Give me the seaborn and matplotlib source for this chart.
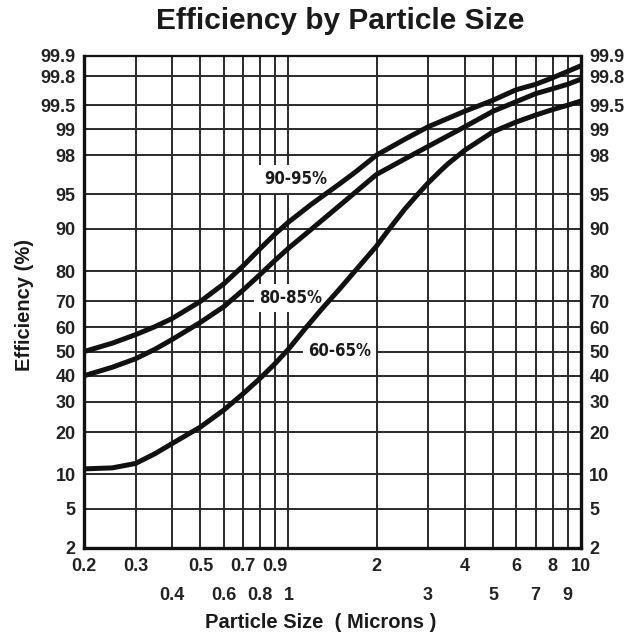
from statistics import NormalDist

import numpy as np
import pandas as pd
import matplotlib
matplotlib.use('Agg')
import matplotlib.pyplot as plt
import seaborn as sns
from matplotlib.ticker import FixedLocator, FixedFormatter, NullLocator

# Dados (tamanho da partícula em mícrons, eficiência em %)
size_90_95 = [0.2, 0.25, 0.3, 0.35, 0.4, 0.5, 0.6, 0.7, 0.8, 0.9, 1.0, 1.2, 1.5, 1.7, 2, 2.5, 3,
              4, 5, 6, 7, 8, 9, 10]
eff_90_95 = [50, 53.5, 57, 60.3, 63.5, 70, 76, 81.5, 85.9, 89.05, 91.2, 93.85, 96.05, 97.0, 98,
             98.68, 99.06, 99.4, 99.57, 99.69, 99.74, 99.79, 99.83, 99.86]

size_80_85 = [0.2, 0.25, 0.3, 0.35, 0.4, 0.5, 0.6, 0.7, 0.8, 0.9, 1.0, 1.2, 1.5, 2, 2.5, 3, 4, 5,
              6, 7, 8, 9, 10]
eff_80_85 = [40, 43.5, 47, 51, 55, 62, 68, 74, 79, 83, 86, 90, 93.7, 96.8, 97.8, 98.4, 99.06,
             99.4, 99.55, 99.65, 99.7, 99.74, 99.78]

size_60_65 = [0.2, 0.25, 0.3, 0.35, 0.4, 0.45, 0.5, 0.6, 0.7, 0.8, 0.9, 1.0, 1.15, 1.3, 1.5, 1.7,
              2, 2.2, 2.5, 2.75, 3, 3.3, 3.5, 4, 5, 6, 7, 8, 9, 10]
eff_60_65 = [11, 11.2, 12.1, 14.3, 16.8, 19.2, 21.5, 27, 33, 39, 45, 51, 60, 67.2, 74.5, 80.3,
             86.5, 89.85, 93.2, 94.9, 96.1, 97.04, 97.5, 98.23, 98.92, 99.18, 99.33, 99.43,
             99.5, 99.56]

curve_names = ['90-95%', '80-85%', '60-65%']
label_x = [1.06, 1.016, 1.5]
label_y = [96.4, 71.2, 50.4]

y_ticks = [2, 5, 10, 20, 30, 40, 50, 60, 70, 80, 90, 95, 98, 99, 99.5, 99.8, 99.9]
y_labels = ['2', '5', '10', '20', '30', '40', '50', '60', '70', '80', '90', '95', '98', '99',
            '99.5', '99.8', '99.9']
x_ticks_low = [0.4, 0.6, 0.8, 1, 3, 5, 7, 9]
x_labels_low = ['0.4', '0.6', '0.8', '1', '3', '5', '7', '9']
x_ticks_high = [0.2, 0.3, 0.5, 0.7, 0.9, 2, 4, 6, 8, 10]
x_labels_high = ['0.2', '0.3', '0.5', '0.7', '0.9', '2', '4', '6', '8', '10']

# Montar tabela longa
df = pd.concat([
    pd.DataFrame({'size': size_90_95, 'eff': eff_90_95, 'curve': '90-95%'}),
    pd.DataFrame({'size': size_80_85, 'eff': eff_80_85, 'curve': '80-85%'}),
    pd.DataFrame({'size': size_60_65, 'eff': eff_60_65, 'curve': '60-65%'}),
], ignore_index=True)

# Escala de probabilidade (probit) para o eixo y
_nd = NormalDist()
_ppf = np.vectorize(_nd.inv_cdf, otypes=[float])
_cdf = np.vectorize(_nd.cdf, otypes=[float])


def probit(y):
    p = np.clip(np.asarray(y, dtype=float) / 100.0, 1e-7, 1 - 1e-7)
    return _ppf(p)


def probit_inv(z):
    return _cdf(np.asarray(z, dtype=float)) * 100.0


sns.set_style('white')
plt.rcParams['font.family'] = ['Liberation Sans', 'DejaVu Sans']

fig = plt.figure(figsize=(6.32, 6.4), dpi=100)
ax = fig.add_axes([84 / 632, 1 - 548 / 640, 497 / 632, 492 / 640])

sns.lineplot(data=df, x='size', y='eff', hue='curve', units='curve', estimator=None, sort=False,
             palette=['#111111'] * 3, linewidth=3.6, legend=False, ax=ax, zorder=5)
for line in ax.get_lines():
    line.set_solid_joinstyle('round')
    line.set_solid_capstyle('butt')

ax.set_xscale('log')
ax.set_yscale('function', functions=(probit, probit_inv))
ax.set_xlim(0.2, 10)
ax.set_ylim(2, 99.9)

# Eixo x em duas linhas de rótulos
ax.xaxis.set_major_locator(FixedLocator(x_ticks_low))
ax.xaxis.set_major_formatter(FixedFormatter(x_labels_low))
ax.xaxis.set_minor_locator(FixedLocator(x_ticks_high))
ax.xaxis.set_minor_formatter(FixedFormatter(x_labels_high))
ax.tick_params(axis='x', which='major', length=25, width=1.3, color='#222222', pad=3,
               labelsize=13, direction='out')
ax.tick_params(axis='x', which='minor', length=0, pad=7, labelsize=13)

ax.yaxis.set_major_locator(FixedLocator(y_ticks))
ax.yaxis.set_major_formatter(FixedFormatter(y_labels))
ax.yaxis.set_minor_locator(NullLocator())
ax.tick_params(axis='y', which='major', length=0, pad=6, labelsize=13,
               left=True, right=True, labelleft=True, labelright=True)

for lbl in ax.get_xticklabels(which='both') + ax.get_yticklabels():
    lbl.set_fontweight('bold')
    lbl.set_color('#222222')

ax.grid(True, which='both', axis='x', color='#2a2a2a', linewidth=1.4)
ax.grid(True, which='major', axis='y', color='#2a2a2a', linewidth=1.4)
ax.set_axisbelow(True)

for side in ['left', 'bottom', 'right']:
    ax.spines[side].set_linewidth(2.4)
    ax.spines[side].set_color('#111111')
ax.spines['top'].set_linewidth(1.6)
ax.spines['top'].set_color('#111111')

# Rótulos das curvas com fundo branco
for name, lx, ly in zip(curve_names, label_x, label_y):
    ax.text(lx, ly, name, ha='center', va='center', fontsize=12, family='DejaVu Sans',
            fontstretch='condensed', fontweight='bold', color='#1a1a1a', zorder=4,
            bbox=dict(boxstyle='square,pad=0.3', facecolor='white', edgecolor='none'))

ax.set_xlabel('')
ax.set_ylabel('')
fig.text(340 / 632, 1 - 21 / 640, 'Efficiency by Particle Size', ha='center', va='center',
         fontsize=21.5, fontweight='bold', color='#1a1a1a')
fig.text(25 / 632, 1 - 305 / 640, 'Efficiency (%)', ha='center', va='center', rotation=90,
         fontsize=14.5, fontweight='bold', color='#1a1a1a')
fig.text(321 / 632, 1 - 622 / 640, 'Particle Size  ( Microns )', ha='center', va='center',
         fontsize=14.5, fontweight='bold', color='#1a1a1a')

fig.savefig('out.png', dpi=100)
